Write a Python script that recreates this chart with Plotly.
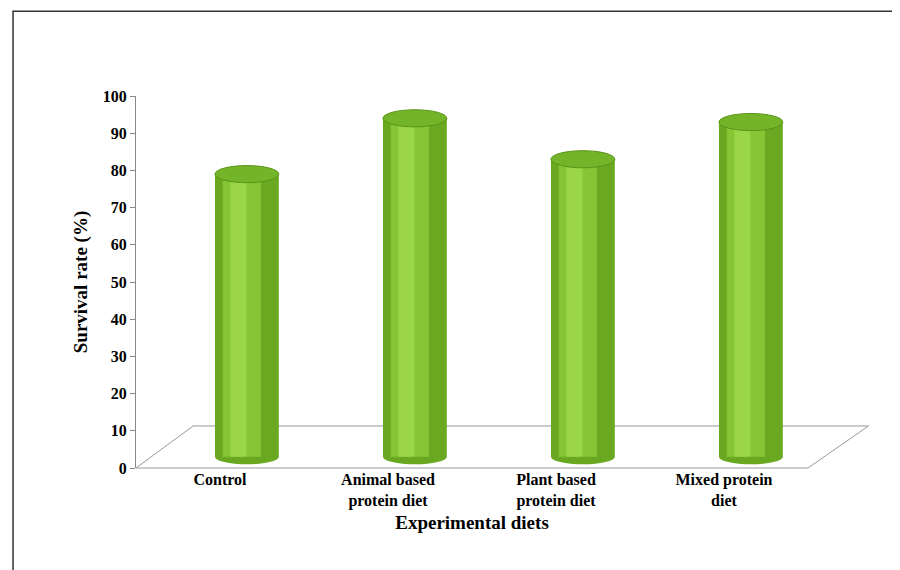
import plotly.graph_objects as go

diets = ["Control", "Animal based<br>protein diet", "Plant based<br>protein diet", "Mixed protein<br>diet"]
survival = [79, 94, 83, 93]
y_ticks = list(range(0, 101, 10))

base = 3
depth_shift = 0.16
bw = 0.38
xs = [i + depth_shift for i in range(len(diets))]

fig = go.Figure()
fig.add_trace(go.Bar(x=xs, y=[v - base for v in survival], base=base, width=bw,
                     marker=dict(color="#6aa822", line=dict(width=0)), showlegend=False))
fig.add_trace(go.Bar(x=[x - 0.03 for x in xs], y=[v - base for v in survival], base=base, width=bw * 0.6,
                     marker=dict(color="#86c634", line=dict(width=0)), showlegend=False))
fig.add_trace(go.Bar(x=[x - 0.05 for x in xs], y=[v - base for v in survival], base=base, width=bw * 0.25,
                     marker=dict(color="#9bd648", line=dict(width=0)), showlegend=False))

shapes = []
# floor
shapes.append(dict(type="path", xref="paper", yref="paper",
                   path="M 0,0 L 1,0 L 1.09,0.113 L 0.085,0.113 Z",
                   fillcolor="white", line=dict(color="#999999", width=1), layer="below"))
for x, v in zip(xs, survival):
    shapes.append(dict(type="circle", xref="x", yref="y", x0=x - bw / 2, x1=x + bw / 2,
                       y0=base - 2, y1=base + 2, fillcolor="#6aa822", line=dict(width=0), layer="below"))
    shapes.append(dict(type="circle", xref="x", yref="y", x0=x - bw / 2, x1=x + bw / 2,
                       y0=v - 2.3, y1=v + 2.3, fillcolor="#73b428", line=dict(color="#5a9318", width=1)))
# outer frame
shapes.append(dict(type="rect", xref="paper", yref="paper", x0=-0.183, x1=1.141, y0=-0.288, y1=1.228,
                   line=dict(color="#333333", width=1.5)))

fig.update_layout(
    width=900, height=570,
    margin=dict(l=128, r=100, t=88, b=110, autoexpand=False),
    paper_bgcolor="white", plot_bgcolor="rgba(0,0,0,0)",
    barmode="overlay", shapes=shapes,
    font=dict(family="Liberation Serif", size=16, color="black"),
    xaxis=dict(tickvals=list(range(len(diets))), ticktext=["<b>%s</b>" % d for d in diets],
               range=[-0.5, 3.5], showline=False, showgrid=False, zeroline=False, automargin=False,
               title=dict(text="<b>Experimental diets</b>", standoff=6), tickfont=dict(size=16)),
    yaxis=dict(range=[0, 100], tickvals=y_ticks, ticktext=["<b>%d</b>" % t for t in y_ticks],
               showline=True, linecolor="#888888", ticks="outside", ticklen=5, tickcolor="#888888",
               showgrid=False, zeroline=False, tickfont=dict(size=16), automargin=False,
               title=dict(text="<b>Survival rate (%)</b>", standoff=10)),
)

fig.write_html("out.html")
